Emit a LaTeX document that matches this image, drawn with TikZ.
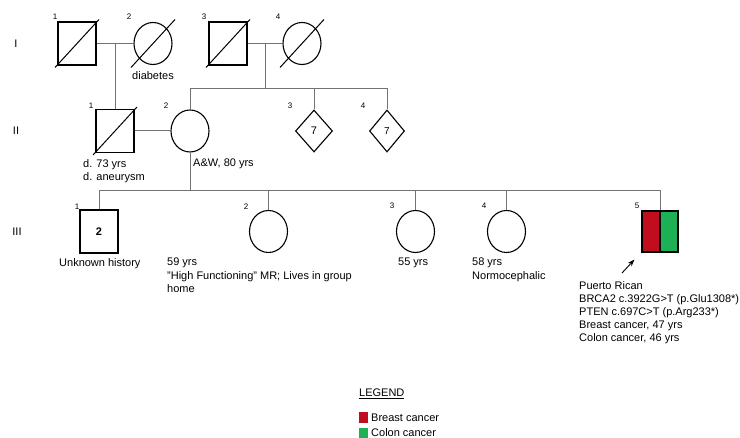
\documentclass[tikz,border=0pt]{standalone}
\usepackage{fontspec}
\setmainfont{Liberation Sans}
\usetikzlibrary{shapes.geometric,arrows.meta}

\definecolor{brred}{RGB}{192,14,30}
\definecolor{cogreen}{RGB}{30,176,84}

\begin{document}
\begin{tikzpicture}[
    x=1pt, y=-1pt,
    every node/.style={font=\fontsize{11}{13.5}\selectfont, inner sep=0pt},
    male/.style={draw, line width=1.1pt, rectangle, minimum width=38pt, minimum height=43pt},
    female/.style={draw, line width=1.1pt, ellipse, minimum width=38pt, minimum height=42pt},
    sexunk/.style={draw, line width=1.1pt, diamond, minimum width=37pt, minimum height=42pt},
    idnum/.style={font=\fontsize{8}{9}\selectfont},
    note/.style={anchor=north west, align=left},
    link/.style={draw=black!55, line width=1pt},
    legbox/.style={minimum width=9pt, minimum height=11pt},
]

% Generation rows
\def\yI{43.5}
\def\yII{131}
\def\yIII{231.5}

\useasboundingbox (0,0) rectangle (740,438);

% --- Generation labels ---
\node (genI)   at (16,\yI)   {I};
\node (genII)  at (16,\yII)  {II};
\node (genIII) at (17,\yIII) {III};

% --- Generation I ---
\node[male]   (I1) at (77,\yI)  {};
\node[female] (I2) at (153,\yI) {};
\node[male]   (I3) at (228,\yI) {};
\node[female] (I4) at (302,\yI) {};
\node[idnum] (nI1) at (55,17)  {1};
\node[idnum] (nI2) at (129,17) {2};
\node[idnum] (nI3) at (204,17) {3};
\node[idnum] (nI4) at (278,17) {4};
\node[note] (tI2) at (132,71) {diabetes};

% --- Generation II ---
\node[male]   (II1) at (115,\yII) {};
\node[female] (II2) at (190,\yII) {};
\node[sexunk] (II3) at (314,\yII) {7};
\node[sexunk, minimum width=35pt] (II4) at (387,\yII) {\fontsize{10}{10}\selectfont 7};
\node[idnum] (nII1) at (91,106)  {1};
\node[idnum] (nII2) at (166,106) {2};
\node[idnum] (nII3) at (290,106) {3};
\node[idnum] (nII4) at (363,106) {4};
\node[note] (tII1) at (83,159)  {d. 73 yrs\\d. aneurysm};
\node[note] (tII2) at (193,159) {A\&W, 80 yrs};

% --- Generation III ---
\node[male] (III1) at (99,\yIII) {\bfseries 2};
\node[female] (III2) at (268.5,\yIII) {};
\node[female] (III3) at (415.5,\yIII) {};
\node[female] (III4) at (506.5,\yIII) {};
\node[male, minimum width=36pt, minimum height=41pt,
      path picture={
        \fill[brred] (path picture bounding box.north west) rectangle (path picture bounding box.south);
        \fill[cogreen] (path picture bounding box.north) rectangle (path picture bounding box.south east);
        \draw[line width=1.1pt] (path picture bounding box.north) -- (path picture bounding box.south);
      }] (III5) at (660,\yIII) {};
\node[idnum] (nIII1) at (77,207)  {1};
\node[idnum] (nIII2) at (246,207) {2};
\node[idnum] (nIII3) at (392,206) {3};
\node[idnum] (nIII4) at (484,206) {4};
\node[idnum] (nIII5) at (637,206) {5};
\node[note] (tIII1) at (59,258)  {Unknown history};
\node[note] (tIII2) at (167,258) {59 yrs\\"High Functioning" MR; Lives in group\\home};
\node[note] (tIII3) at (398,258) {55 yrs};
\node[note] (tIII4) at (472,258) {58 yrs\\Normocephalic};
\node[note, font=\fontsize{11}{13}\selectfont] (tIII5) at (579,281)
    {Puerto Rican\\BRCA2 c.3922G>T (p.Glu1308*)\\PTEN c.697C>T (p.Arg233*)\\Breast cancer, 47 yrs\\Colon cancer, 46 yrs};

% --- Deceased slashes ---
\foreach \p in {I1,I2,I3,I4,II1}
    \draw[line width=1pt] ([shift={(-22,24)}]\p.center) -- ([shift={(22,-24)}]\p.center);

% --- Couples and sibships ---
\coordinate (mI12)  at (115,\yI);
\coordinate (mI34)  at (265,\yI);
\coordinate (sibII) at (265,89);
\coordinate (sibIII) at (190,191);
\draw[link] (I1.east) -- (I2.west);
\draw[link] (I3.east) -- (I4.west);
\draw[link] (II1.east) -- (II2.west);
\draw[link] (mI12) -- (II1.north);
\draw[link] (mI34) -- (sibII);
\foreach \c in {II2,II3,II4}
    \draw[link] (sibII) -| (\c.north);
\draw[link] (II2.south) -- (sibIII);
\foreach \c in {III1,III2,III3,III4,III5}
    \draw[link] (sibIII) -| (\c.north);

% --- Proband arrow ---
\coordinate (pb) at (622,273);
\draw[line width=0.9pt, -{Stealth[length=7pt,width=5pt]}] (pb) -- ([xshift=-7pt,yshift=-7pt]III5.south west);

% --- Legend ---
\node[note] (legT) at (359,389) {\underline{LEGEND}};
\node[legbox, fill=brred]   (legB) at (363.5,417.5) {};
\node[legbox, fill=cogreen] (legC) at (363.5,433.5) {};
\node[anchor=west] (legBt) at (371,418) {Breast cancer};
\node[anchor=west] (legCt) at (371,433) {Colon cancer};

\end{tikzpicture}
\end{document}
